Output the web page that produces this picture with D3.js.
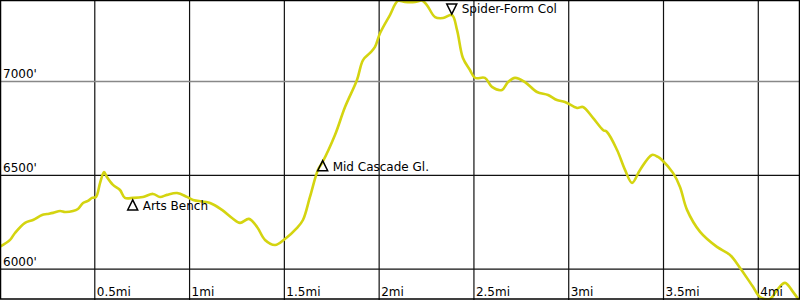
<!DOCTYPE html>
<meta charset="utf-8">
<style>
body { margin: 0; background: #fff; }
text { font-family: "DejaVu Sans", sans-serif; font-size: 12px; fill: #000; }
</style>
<body>
<script src="https://d3js.org/d3.v7.min.js"></script>
<script>

// trail profile (miles, feet)
var miles = [0, 0.053, 0.079, 0.132, 0.174, 0.222, 0.248, 0.280, 0.317, 0.343,
  0.385, 0.411, 0.438, 0.464, 0.485, 0.506, 0.528, 0.549, 0.564, 0.596,
  0.633, 0.659, 0.702, 0.754, 0.807, 0.844, 0.881, 0.934, 0.986, 1.018,
  1.108, 1.171, 1.224, 1.266, 1.313, 1.356, 1.398, 1.451, 1.503, 1.567,
  1.598, 1.635, 1.677, 1.699, 1.767, 1.820, 1.883, 1.915, 1.952, 1.978,
  2.005, 2.057, 2.099, 2.136, 2.189, 2.226, 2.252, 2.295, 2.337, 2.384,
  2.411, 2.442, 2.479, 2.506, 2.558, 2.595, 2.648, 2.680, 2.717, 2.769,
  2.833, 2.891, 2.938, 2.980, 3.044, 3.075, 3.128, 3.181, 3.202, 3.255,
  3.297, 3.334, 3.376, 3.439, 3.471, 3.492, 3.550, 3.587, 3.624, 3.693,
  3.782, 3.851, 3.904, 3.972, 4.009, 4.062, 4.099, 4.141, 4.183, 4.220];

var feet = [6120, 6156, 6193, 6247, 6262, 6289, 6294, 6300, 6310, 6305,
  6310, 6321, 6353, 6364, 6380, 6385, 6460, 6518, 6491, 6449,
  6422, 6380, 6380, 6385, 6401, 6385, 6396, 6406, 6385, 6369,
  6353, 6316, 6273, 6247, 6268, 6225, 6156, 6129, 6161, 6220,
  6262, 6385, 6529, 6566, 6715, 6864, 7008, 7114, 7152, 7184,
  7258, 7354, 7429, 7423, 7423, 7431, 7407, 7343, 7338, 7354,
  7274, 7125, 7061, 7019, 7019, 6971, 6955, 6997, 7019, 6997,
  6944, 6928, 6901, 6891, 6859, 6864, 6806, 6742, 6731, 6635,
  6529, 6460, 6529, 6609, 6598, 6582, 6513, 6438, 6316, 6199,
  6119, 6076, 6007, 5906, 5852, 5842, 5890, 5927, 5879, 5826];

var tickMiles = [0.5, 1, 1.5, 2, 2.5, 3, 3.5, 4];
var tickMileLabels = ["0.5mi", "1mi", "1.5mi", "2mi", "2.5mi", "3mi", "3.5mi", "4mi"];
var tickFeet = [6000, 6500, 7000];
var tickFeetLabels = ["6000'", "6500'", "7000'"];

var waypointNames = ["Arts Bench", "Mid Cascade Gl.", "Spider-Form Col"];
var waypointMiles = [0.700, 1.702, 2.383];
var waypointFeet = [6369, 6578, 7359];
var waypointUp = [true, true, false];

var width = 800, height = 300;

var x = d3.scaleLinear().domain([0, 4.22]).range([0, width]);
var y = d3.scaleLinear().domain([5836, 7434]).range([height, 0]);

var svg = d3.select("body").append("svg")
   .attr("width", width)
   .attr("height", height);

svg.append("clipPath").attr("id", "clip")
  .append("rect").attr("width", width).attr("height", height);

// grid
svg.selectAll(".vgrid").data(tickMiles).enter().append("line")
  .attr("x1", function(d){return x(d)})
  .attr("x2", function(d){return x(d)})
  .attr("y1", 0).attr("y2", height)
  .attr("stroke", "#111").attr("stroke-width", 1.2);

svg.selectAll(".hgrid").data(tickFeet).enter().append("line")
  .attr("x1", 0).attr("x2", width)
  .attr("y1", function(d){return y(d)})
  .attr("y2", function(d){return y(d)})
  .attr("stroke", function(d){return d == 7000 ? "#888" : "#111"})
  .attr("stroke-width", function(d){return d == 7000 ? 1.6 : 1.2});

// the profile
var pts = miles.map(function(m, i){return [m, feet[i]]});
var line = d3.line()
  .x(function(d){return x(d[0])})
  .y(function(d){return y(d[1])})
  .curve(d3.curveCatmullRom);

svg.append("path")
  .attr("clip-path", "url(#clip)")
  .attr("d", line(pts))
  .attr("fill", "none")
  .attr("stroke", "#d4d410")
  .attr("stroke-width", 2.6)
  .attr("stroke-linejoin", "round");

// axis labels
svg.selectAll(".ylab").data(tickFeet).enter().append("text")
  .attr("x", 3)
  .attr("y", function(d){return y(d) - 3.5})
  .text(function(d, i){return tickFeetLabels[i]});

svg.selectAll(".xlab").data(tickMiles).enter().append("text")
  .attr("x", function(d){return x(d) + 2})
  .attr("y", 296)
  .text(function(d, i){return tickMileLabels[i]});

// waypoints
var wp = svg.selectAll(".wp").data(waypointNames).enter().append("g")
  .attr("transform", function(d, i){
    return "translate(" + x(waypointMiles[i]) + "," + y(waypointFeet[i]) + ")"});

wp.append("path")
  .attr("d", function(d, i){
    return waypointUp[i] ? "M0,0L5,10L-5,10Z" : "M0,0L5,-10L-5,-10Z"})
  .attr("fill", "none")
  .attr("stroke", "#000")
  .attr("stroke-width", 1.5)
  .attr("stroke-linejoin", "miter");

wp.append("text")
  .attr("x", 10)
  .attr("y", function(d, i){return waypointUp[i] ? 10 : -1.5})
  .text(function(d){return d});

// frame
svg.append("rect")
  .attr("x", 0.5).attr("y", 0.5)
  .attr("width", width - 1).attr("height", height - 1.5)
  .attr("fill", "none")
  .attr("stroke", "#000")
  .attr("stroke-width", 1.5);

</script>
</body>
